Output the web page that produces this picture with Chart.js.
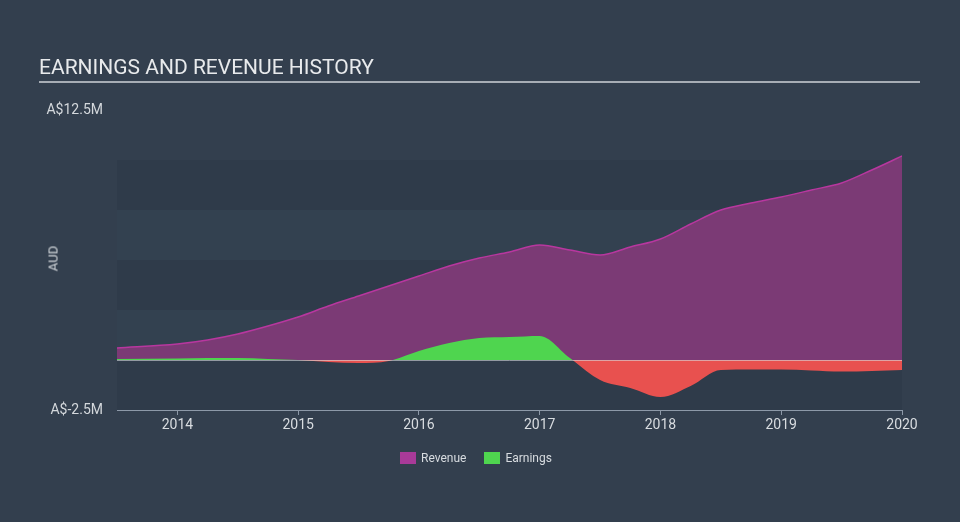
<!DOCTYPE html>
<html lang="en">
<head>
    <meta charset="UTF-8">
    <title>Earnings and Revenue History</title>
    <script src="https://cdn.jsdelivr.net/npm/chart.js"></script>
    <style>
        * {
            margin: 0;
            padding: 0;
            box-sizing: border-box;
            font-family: Roboto, 'Open Sans', sans-serif;
        }

        body {
            width: 960px;
            height: 522px;
            background-color: #333f4e;
            position: relative;
            overflow: hidden;
        }

        .title {
            position: absolute;
            left: 39px;
            top: 55px;
            width: 881px;
            color: #e8eaec;
            font-size: 21px;
            line-height: 24px;
            padding-bottom: 2px;
            border-bottom: 2px solid #a7adb5;
        }

        .axis-title {
            position: absolute;
            left: 33px;
            top: 251px;
            width: 40px;
            text-align: center;
            color: #d4d8dc;
            font-size: 13px;
            transform: rotate(-90deg);
        }

        .legend {
            position: absolute;
            top: 451px;
            left: 400px;
            display: flex;
            color: #d8dce0;
            font-size: 12px;
            line-height: 14px;
        }

        .legend span.box {
            display: inline-block;
            width: 16px;
            height: 12px;
            margin-right: 5px;
            vertical-align: top;
            margin-top: 1px;
        }

        .legend .item {
            margin-right: 18px;
        }

        canvas {
            position: absolute;
            left: 0;
            top: 0;
        }
    </style>
</head>
<body>
    <canvas id="chart" width="960" height="522"></canvas>
    <div class="title">EARNINGS AND REVENUE HISTORY</div>
    <div class="axis-title">AUD</div>
    <div class="legend">
        <div class="item"><span class="box" style="background:#a83a98"></span>Revenue</div>
        <div class="item"><span class="box" style="background:#4fd54f"></span>Earnings</div>
    </div>

    <script>
        // dates as decimal years, values in A$ millions
        const dates = [2013.5, 2014.0, 2014.25, 2014.5, 2014.75, 2015.0, 2015.25, 2015.5, 2015.75,
                       2016.0, 2016.25, 2016.5, 2016.75, 2017.0, 2017.25, 2017.5, 2017.75,
                       2018.0, 2018.25, 2018.5, 2018.75, 2019.0, 2019.25, 2019.5, 2019.75, 2020.0];
        const revenue = [0.6, 0.8, 1.0, 1.3, 1.7, 2.15, 2.7, 3.2, 3.7,
                         4.2, 4.7, 5.1, 5.4, 5.75, 5.5, 5.25, 5.65,
                         6.05, 6.8, 7.5, 7.85, 8.15, 8.5, 8.85, 9.5, 10.2];
        const earnings = [0.05, 0.08, 0.1, 0.1, 0.05, 0.0, -0.1, -0.15, -0.05,
                          0.45, 0.85, 1.1, 1.15, 1.2, 0.1, -1.0, -1.4,
                          -1.85, -1.3, -0.5, -0.48, -0.47, -0.52, -0.58, -0.55, -0.5];
        const yearTicks = [2014, 2015, 2016, 2017, 2018, 2019, 2020];
        const yTickLabels = { '12.5': 'A$12.5M', '-2.5': 'A$-2.5M' };

        const toPoints = (vals) => vals.map((v, i) => ({ x: dates[i], y: v }));

        // alternating horizontal bands behind the plot, plus the zero line
        const bandPlugin = {
            id: 'bands',
            beforeDraw(chart) {
                const { ctx, chartArea, scales } = chart;
                const y = scales.y;
                ctx.save();
                for (let i = 0; i < 5; i++) {
                    const lo = -2.5 + i * 2.5;
                    const top = y.getPixelForValue(lo + 2.5);
                    const bottom = y.getPixelForValue(lo);
                    ctx.fillStyle = i % 2 === 0 ? '#2f3b4a' : '#334150';
                    ctx.fillRect(chartArea.left, top, chartArea.right - chartArea.left, bottom - top);
                }
                ctx.restore();
            },
            afterDatasetsDraw(chart) {
                const { ctx, chartArea, scales } = chart;
                const y0 = Math.round(scales.y.getPixelForValue(0)) + 0.5;
                ctx.save();
                ctx.strokeStyle = 'rgba(215,218,222,0.6)';
                ctx.lineWidth = 1;
                ctx.beginPath();
                ctx.moveTo(chartArea.left, y0);
                ctx.lineTo(chartArea.right, y0);
                ctx.stroke();
                ctx.restore();
            }
        };

        new Chart(document.getElementById('chart'), {
            type: 'line',
            data: {
                datasets: [{
                    label: 'Earnings',
                    data: toPoints(earnings),
                    borderWidth: 0,
                    borderColor: 'rgba(0,0,0,0)',
                    fill: { target: 'origin', above: '#4fd54f', below: '#e8514f' },
                    pointRadius: 0,
                    cubicInterpolationMode: 'monotone',
                    order: 0
                }, {
                    label: 'Revenue',
                    data: toPoints(revenue),
                    borderWidth: 1.5,
                    borderColor: '#b8379f',
                    backgroundColor: '#7b3a75',
                    fill: 'origin',
                    pointRadius: 0,
                    cubicInterpolationMode: 'monotone',
                    order: 1
                }]
            },
            options: {
                responsive: false,
                devicePixelRatio: 1,
                animation: false,
                layout: {
                    padding: { left: 0, right: 58, top: 110, bottom: 82 }
                },
                plugins: {
                    legend: { display: false },
                    tooltip: { enabled: false }
                },
                scales: {
                    x: {
                        type: 'linear',
                        min: 2013.5,
                        max: 2020,
                        afterBuildTicks: (s) => {
                            s.ticks = yearTicks.map(v => ({ value: v }));
                        },
                        afterFit: (s) => { s.height = 30; },
                        ticks: {
                            color: '#d8dce0',
                            font: { family: 'Roboto', size: 14 },
                            padding: 2,
                            maxRotation: 0,
                            autoSkip: false,
                            callback: (v) => String(v)
                        },
                        grid: {
                            drawOnChartArea: false,
                            drawTicks: true,
                            tickLength: 5,
                            color: '#8d99a8'
                        },
                        border: { display: true, color: '#8d99a8' }
                    },
                    y: {
                        min: -2.5,
                        max: 12.5,
                        afterFit: (s) => { s.width = 117; },
                        ticks: {
                            stepSize: 2.5,
                            color: '#d4d8dc',
                            font: { family: 'Roboto', size: 14 },
                            padding: 14,
                            callback: (v) => yTickLabels[String(v)] || ''
                        },
                        grid: { display: false, drawTicks: false },
                        border: { display: false }
                    }
                }
            },
            plugins: [bandPlugin]
        });
    </script>
</body>
</html>
